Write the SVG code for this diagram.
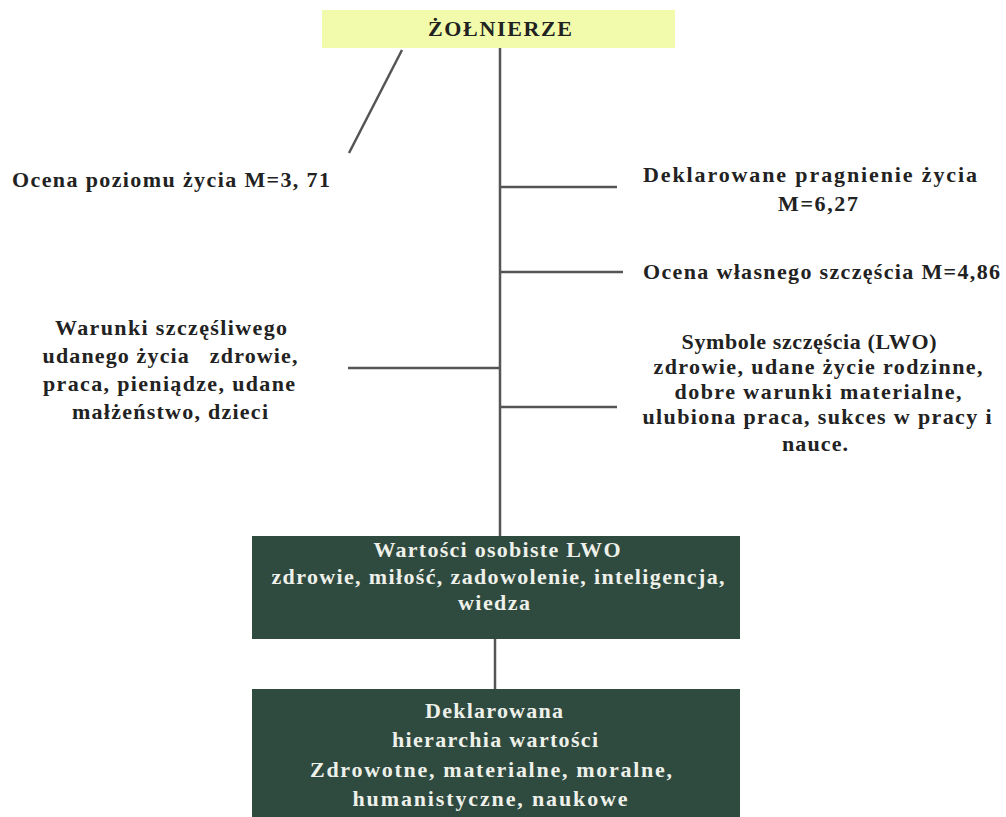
<svg xmlns="http://www.w3.org/2000/svg" width="1006" height="817" viewBox="0 0 1006 817">
<style>
.t{font-family:"Liberation Serif","Times New Roman",serif;font-weight:bold;font-size:22px;fill:#222}
.w{font-family:"Liberation Serif","Times New Roman",serif;font-weight:bold;font-size:22px;fill:#eef0ea}
.c{text-anchor:middle}
.ln{stroke:#555;stroke-width:2.5;fill:none}
.box{fill:#2f4a3f}
</style>
<rect width="1006" height="817" fill="#ffffff"/>
<g id="connectors">
<line class="ln" x1="500" y1="48" x2="500" y2="536"/>
<line class="ln" x1="402" y1="50" x2="349" y2="153"/>
<line class="ln" x1="500" y1="187" x2="617" y2="187"/>
<line class="ln" x1="500" y1="272" x2="623" y2="272"/>
<line class="ln" x1="348" y1="368" x2="500" y2="368"/>
<line class="ln" x1="500" y1="407" x2="617" y2="407"/>
<line class="ln" x1="495" y1="639" x2="495" y2="689"/>
</g>
<g id="zolnierze">
<rect x="322" y="10" width="353" height="38" fill="#f1fbab"/>
<text class="t c" x="500" y="36" textLength="144" lengthAdjust="spacing">ŻOŁNIERZE</text>
</g>
<g id="ocena-poziomu">
<text class="t" x="12" y="187" textLength="318" lengthAdjust="spacing">Ocena poziomu życia M=3, 71</text>
</g>
<g id="deklarowane-pragnienie">
<text class="t c" x="810" y="182" textLength="334" lengthAdjust="spacing">Deklarowane pragnienie życia</text>
<text class="t c" x="818" y="211" textLength="80" lengthAdjust="spacing">M=6,27</text>
</g>
<g id="ocena-wlasnego">
<text class="t" x="643" y="279" textLength="357" lengthAdjust="spacing">Ocena własnego szczęścia M=4,86</text>
</g>
<g id="warunki">
<text class="t c" x="171" y="335" textLength="232" lengthAdjust="spacing">Warunki szczęśliwego</text>
<text class="t c" x="170" y="363" textLength="255" lengthAdjust="spacing" xml:space="preserve">udanego życia   zdrowie,</text>
<text class="t c" x="169" y="391" textLength="252" lengthAdjust="spacing">praca, pieniądze, udane</text>
<text class="t c" x="170" y="419" textLength="196" lengthAdjust="spacing">małżeństwo, dzieci</text>
</g>
<g id="symbole">
<text class="t c" x="809" y="349" textLength="255" lengthAdjust="spacing">Symbole szczęścia (LWO)</text>
<text class="t c" x="818" y="374" textLength="329" lengthAdjust="spacing">zdrowie, udane życie rodzinne,</text>
<text class="t c" x="818" y="399" textLength="287" lengthAdjust="spacing">dobre warunki materialne,</text>
<text class="t c" x="817" y="424" textLength="349" lengthAdjust="spacing">ulubiona praca, sukces w pracy i</text>
<text class="t c" x="815" y="451" textLength="66" lengthAdjust="spacing">nauce.</text>
</g>
<g id="wartosci-osobiste">
<rect class="box" x="252" y="536" width="488" height="103"/>
<text class="w c" x="497" y="557" textLength="247" lengthAdjust="spacing">Wartości osobiste LWO</text>
<text class="w c" x="498" y="584" textLength="453" lengthAdjust="spacing">zdrowie, miłość, zadowolenie, inteligencja,</text>
<text class="w c" x="494" y="610" textLength="72" lengthAdjust="spacing">wiedza</text>
</g>
<g id="hierarchia">
<rect class="box" x="252" y="689" width="488" height="140"/>
<text class="w c" x="494" y="718" textLength="138" lengthAdjust="spacing">Deklarowana</text>
<text class="w c" x="495" y="747" textLength="206" lengthAdjust="spacing">hierarchia wartości</text>
<text class="w c" x="491" y="777" textLength="362" lengthAdjust="spacing">Zdrowotne, materialne, moralne,</text>
<text class="w c" x="490" y="806" textLength="275" lengthAdjust="spacing">humanistyczne, naukowe</text>
</g>
</svg>
